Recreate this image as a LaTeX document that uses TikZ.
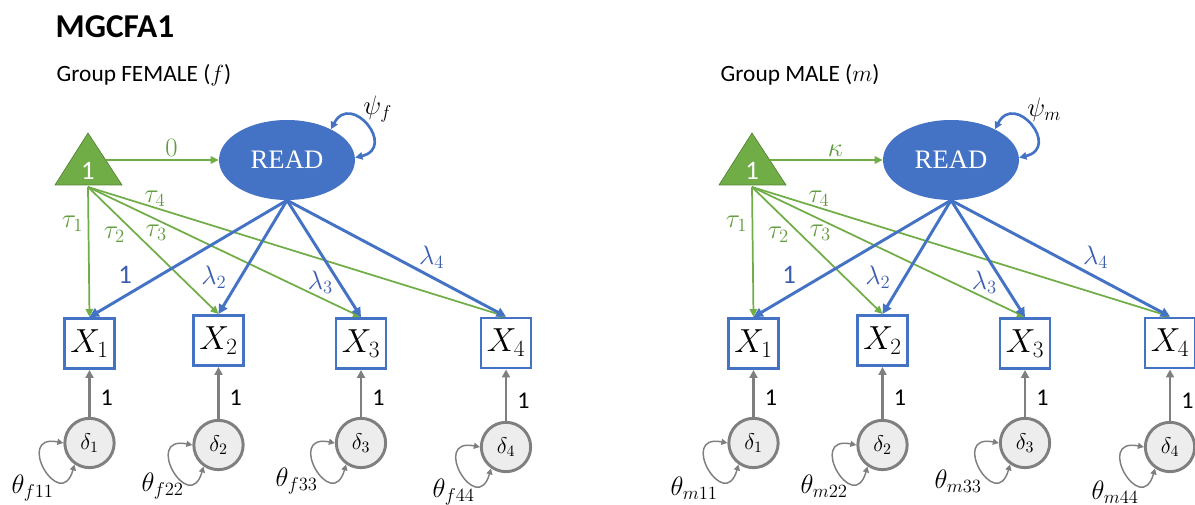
\RequirePackage{fix-cm}
\documentclass[tikz,border=0pt]{standalone}
\usepackage{fontspec}
\setmainfont{Carlito}
\newfontfamily\readfont{Liberation Serif}
\usetikzlibrary{arrows.meta,shapes.geometric}

\definecolor{semblue}{HTML}{4472C4}
\definecolor{semgreen}{HTML}{70AD47}
\definecolor{labblue}{HTML}{3A5DAE}
\definecolor{labgreen}{HTML}{5E9B3A}
\definecolor{semgrey}{HTML}{7F7F7F}
\definecolor{deltafill}{HTML}{EDEDED}

\begin{document}
\begin{tikzpicture}[x=0.75pt,y=-0.75pt,
  obs/.style={draw=semblue,line width=2.2pt,fill=white,minimum size=37.5pt,inner sep=0pt,font=\fontsize{25}{29}\selectfont},
  lat/.style={ellipse,fill=semblue,text=white,minimum width=102pt,minimum height=60pt,inner sep=0pt,font=\readfont\fontsize{20}{24}\selectfont},
  err/.style={circle,draw=semgrey,line width=2.2pt,fill=deltafill,minimum size=37pt,inner sep=0pt,font=\fontsize{17}{20}\selectfont},
  load/.style={draw=semblue,line width=2.2pt,-{Triangle[length=7pt,width=7pt]}},
  icpt/.style={draw=semgreen,line width=1.3pt,-{Triangle[length=6pt,width=5.5pt]}},
  resid/.style={draw=semgrey,line width=2.2pt,-{Triangle[length=6pt,width=6pt]}},
  selfvar/.style={draw=semgrey,line width=1.1pt,{Triangle[length=4.5pt,width=4.5pt]}-{Triangle[length=4.5pt,width=4.5pt]}},
  psiloop/.style={draw=semblue,line width=2pt,{Triangle[length=5.5pt,width=5.5pt]}-{Triangle[length=5.5pt,width=5.5pt]}},
  lab/.style={font=\fontsize{20}{24}\selectfont},
  glab/.style={lab,text=labgreen},
  blab/.style={lab,text=labblue}]
  \useasboundingbox (0,0) rectangle (1195,505);

  \node[anchor=west,font=\bfseries\fontsize{25}{29}\selectfont] (title) at (51,27) {MGCFA1};

  % one panel per group
  \foreach \g/\dx/\m/\grp in {f/0/0/FEMALE, m/664/\kappa/MALE}{
  \begin{scope}[shift={(\dx,0)}]
    \node[anchor=west,font=\fontsize{17.5}{21}\selectfont] (\g-group) at (52,75) {Group \grp\ ($\g$)};

    % mean structure
    \fill[semgreen,draw=semgreen!75!black,line width=0.5pt] (88,133) -- (122,185) -- (55,185) -- cycle;
    \node[text=white,font=\fontsize{20}{24}\selectfont] (\g-one) at (88,171) {1};
    \coordinate (\g-base) at (88,187);
    \coordinate (\g-side) at (106,160);

    \node[lat] (\g-read) at (287,160) {READ};
    \draw[icpt] (\g-side) -- node[glab,pos=0.58,above=-1pt] {$\m$} (\g-read.west);
    \draw[psiloop] (\g-read.35) .. controls +(20,-38) and +(42,-10) .. node[lab,pos=0.35,anchor=south west,inner sep=0pt,xshift=4pt,yshift=-4pt] {$\psi_\g$} (\g-read.2);

    % indicators
    \foreach \i/\xx/\yx/\yd/\tx/\ty in {1/89.5/343.5/443/54/488, 2/218.5/340.5/445/184/486, 3/361/343.5/443/318/481, 4/506/343/447/475/492}{
      \node[obs] (\g-X\i) at (\xx,\yx) {$X_\i$};
      \node[err] (\g-d\i) at (\xx,\yd) {$\delta_\i$};
      \draw[resid] (\g-d\i) -- node[pos=0.4,right=4pt,font=\fontsize{18}{22}\selectfont] {1} (\g-X\i);
      \draw[selfvar] (\g-d\i.180) .. controls +(-50,-10) and +(-14,50) .. (\g-d\i.235);
      \node[lab,anchor=east,inner sep=0pt] (\g-th\i) at (\tx,\ty) {$\theta_{\g\i\i}$};
    }

    % intercepts
    \draw[icpt] (\g-base) -- node[glab,pos=0.28,left=0pt] {$\tau_1$} (\g-X1.north);
    \draw[icpt] (\g-base) -- node[glab,pos=0.3,anchor=north east,inner sep=1pt] {$\tau_2$} (\g-X2.north);
    \draw[icpt] (\g-base) -- node[glab,pos=0.25,below=0pt] {$\tau_3$} (\g-X3.north);
    \draw[icpt] (\g-base) -- node[glab,pos=0.16,above=-3pt] {$\tau_4$} (\g-X4.north);

    % loadings
    \draw[load] (\g-read.south) -- node[blab,pos=0.82,above=5pt] {1} (\g-X1.north);
    \draw[load] (\g-read.south) -- node[blab,pos=0.68,left=6pt] {$\lambda_2$} (\g-X2.north);
    \draw[load] (\g-read.south) -- node[blab,pos=0.7,left=0pt] {$\lambda_3$} (\g-X3.north);
    \draw[load] (\g-read.south) -- node[blab,pos=0.66,above=2pt] {$\lambda_4$} (\g-X4.north);
  \end{scope}
  }
\end{tikzpicture}
\end{document}
